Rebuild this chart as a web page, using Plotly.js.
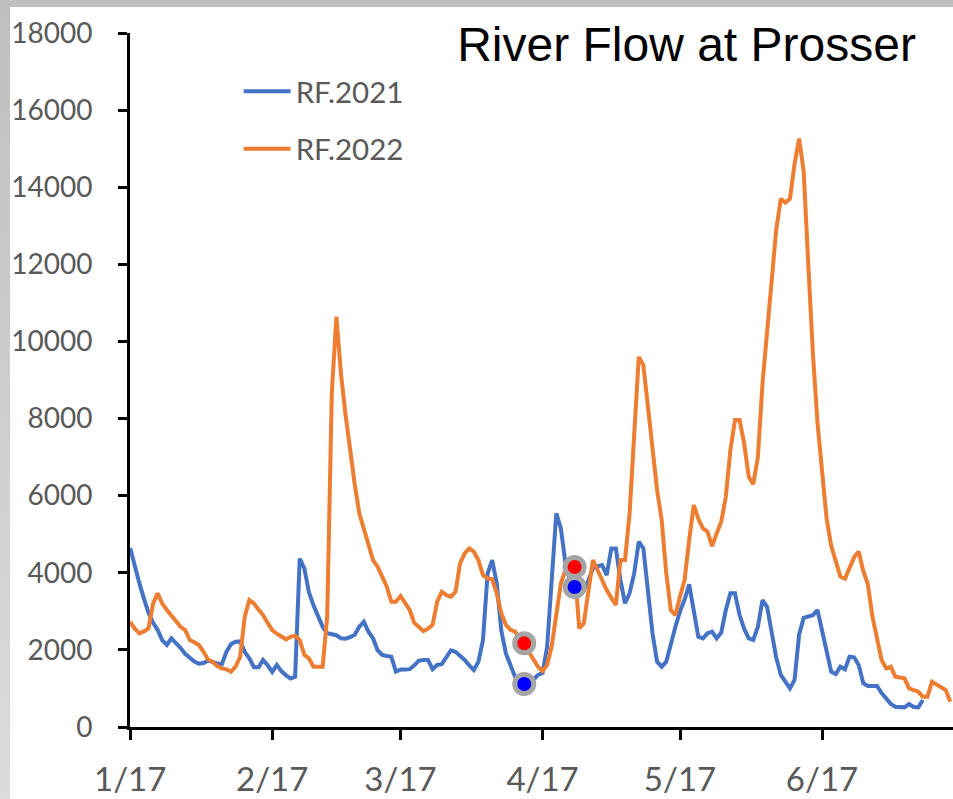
<!DOCTYPE html>
<html>
<head>
<meta charset="utf-8">
<script src="https://cdn.plot.ly/plotly-3.0.1.min.js"></script>
<style>
  html, body { margin: 0; padding: 0; }
  body {
    width: 953px; height: 799px; overflow: hidden; position: relative;
    background: linear-gradient(to bottom, #bfbfbf, #dcdcdc);
  }
  #chart { position: absolute; left: 10px; top: 7px; width: 943px; height: 792px; background: #fff; }
</style>
</head>
<body>
<div id="chart"></div>
<script>
// Daily river flow at Prosser, starting 17 January, one value per day.
const startDate = '2022-01-17';

const flow2021 = [
  4640, 4150, 3730, 3330, 2960, 2700, 2520, 2250, 2130, 2300,
  2180, 2050, 1900, 1800, 1700, 1640, 1660, 1720, 1680, 1650,
  1630, 1950, 2150, 2210, 2220, 1950, 1780, 1550, 1550, 1740,
  1600, 1430, 1610, 1450, 1340, 1260, 1300, 4370, 4120, 3500,
  3160, 2850, 2600, 2430, 2410, 2380, 2300, 2290, 2330, 2390,
  2600, 2730, 2470, 2300, 1990, 1870, 1840, 1820, 1440, 1490,
  1490, 1500, 1600, 1720, 1740, 1740, 1500, 1610, 1630, 1800,
  1990, 1950, 1860, 1740, 1600, 1480, 1690, 2260, 3980, 4330,
  3730, 2500, 1910, 1600, 1300, 1200, 1115, 1175, 1220, 1350,
  1400, 2080, 3730, 5540, 5150, 4245, 3770, 3630, 3580, 3550,
  3800, 4115, 4170, 4200, 3940, 4630, 4630, 3810, 3210, 3470,
  3985, 4805, 4634, 3470, 2430, 1693, 1564, 1693, 2170, 2600,
  3000, 3300, 3700, 3034, 2341, 2300, 2430, 2471, 2300, 2445,
  3034, 3467, 3467, 2904, 2550, 2300, 2256, 2601, 3293, 3119,
  2500, 1800, 1350, 1150, 1000, 1220, 2400, 2830, 2860, 2900,
  3034, 2500, 1900, 1434, 1374, 1564, 1496, 1823, 1807, 1608,
  1133, 1063, 1063, 1063, 880, 744, 600, 527, 520, 510,
  596, 520, 510, 700
];

const flow2022 = [
  2730, 2550, 2430, 2480, 2560, 3207, 3467, 3200, 3034, 2900,
  2730, 2600, 2515, 2256, 2200, 2126, 1953, 1750, 1690, 1580,
  1520, 1496, 1434, 1564, 1823, 2860, 3293, 3207, 3050, 2904,
  2700, 2515, 2420, 2350, 2274, 2340, 2367, 2256, 1870, 1780,
  1564, 1564, 1564, 2860, 8653, 10640, 9172, 8100, 7097, 6300,
  5541, 5108, 4700, 4330, 4157, 3900, 3638, 3249, 3250, 3397,
  3200, 3034, 2700, 2600, 2489, 2550, 2645, 3249, 3508, 3420,
  3379, 3508, 4245, 4504, 4634, 4550, 4330, 3941, 3850, 3830,
  3467, 2948, 2650, 2520, 2471, 2300, 2170, 1950, 1750, 1564,
  1450, 1608, 2100, 2900, 3726, 4071, 4150, 4150, 2560, 2690,
  3500, 4330, 4071, 3800, 3552, 3350, 3163, 4330, 4330, 5541,
  7700, 9600, 9387, 8306, 7442, 6145, 5367, 3985, 3034, 2904,
  3379, 3812, 4849, 5757, 5400, 5152, 5065, 4693, 5022, 5324,
  5972, 7183, 7960, 7960, 7356, 6490, 6300, 7000, 8900, 10300,
  11600, 12900, 13700, 13600, 13700, 14600, 15260, 14400, 12000, 9700,
  7900, 6500, 5400, 4700, 4300, 3900, 3850, 4150, 4400, 4550,
  4050, 3700, 2860, 2300, 1737, 1522, 1564, 1305, 1280, 1263,
  1003, 950, 916, 786, 786, 1175, 1100, 1050, 960, 656
];

// Days (counted from the start date) that are highlighted on both curves
const highlightDays = [86, 97];

const seriesNames = ['RF.2021', 'RF.2022'];
const chartTitle = 'River Flow at Prosser';

const DAY_MS = 86400000;
const t0 = Date.parse(startDate + 'T00:00:00Z');
function dayToDate(d) {
  return new Date(t0 + d * DAY_MS).toISOString().slice(0, 10);
}
const dates2021 = flow2021.map((_, i) => dayToDate(i));
const dates2022 = flow2022.map((_, i) => dayToDate(i));
const hiDates = highlightDays.map(dayToDate);

const BLUE = '#4472C4';
const ORANGE = '#ED7D31';
const GRAY_TXT = '#595959';
const LABEL_FONT = 'Lato, "Open Sans", sans-serif';

const traces = [
  {
    x: dates2021, y: flow2021, name: seriesNames[0], type: 'scatter', mode: 'lines',
    line: { color: BLUE, width: 4 }, legendgroup: 'a'
  },
  {
    x: dates2022, y: flow2022, name: seriesNames[1], type: 'scatter', mode: 'lines',
    line: { color: ORANGE, width: 4 }, legendgroup: 'b'
  },
  {
    x: hiDates, y: highlightDays.map(d => flow2022[d]), type: 'scatter', mode: 'markers',
    showlegend: false,
    marker: { size: 19, color: '#FF0000', line: { color: '#A5A5A5', width: 5 } }
  },
  {
    x: hiDates, y: highlightDays.map(d => flow2021[d]), type: 'scatter', mode: 'markers',
    showlegend: false,
    marker: { size: 19, color: '#0000FF', line: { color: '#A5A5A5', width: 5 } }
  }
];

const layout = {
  width: 943, height: 792,
  margin: { l: 120, r: 0, t: 26, b: 72 },
  paper_bgcolor: '#ffffff', plot_bgcolor: '#ffffff',
  title: {
    text: chartTitle,
    font: { family: '"Liberation Sans", Arial, sans-serif', size: 48, color: '#000000' },
    xref: 'container', yref: 'container',
    x: 0.7174, xanchor: 'center', y: 0.9533, yanchor: 'middle'
  },
  showlegend: true,
  legend: {
    x: 0.132, y: 0.953, xanchor: 'left', yanchor: 'top',
    bgcolor: 'rgba(0,0,0,0)', traceorder: 'grouped', tracegroupgap: 16,
    itemwidth: 47,
    font: { family: LABEL_FONT, size: 29.5, color: GRAY_TXT }
  },
  xaxis: {
    type: 'date',
    range: ['2022-01-16 23:00', '2022-07-15 14:00'],
    tick0: startDate, dtick: 'M1', tickformat: '%-m/%-d',
    ticks: 'outside', ticklen: 10, tickwidth: 3, tickcolor: '#000',
    showline: true, linewidth: 3, linecolor: '#000',
    showgrid: false, zeroline: false,
    tickfont: { family: LABEL_FONT, size: 33, color: GRAY_TXT },
    ticklabelstandoff: 11
  },
  yaxis: {
    range: [0, 18000], dtick: 2000, tickformat: 'd',
    ticks: 'outside', ticklen: 9, tickwidth: 3, tickcolor: '#000',
    showline: true, linewidth: 3, linecolor: '#000',
    showgrid: false, zeroline: false,
    tickfont: { family: LABEL_FONT, size: 28, color: GRAY_TXT },
    ticklabelstandoff: 20
  }
};

Plotly.newPlot('chart', traces, layout, { staticPlot: true, displayModeBar: false });
</script>
</body>
</html>
